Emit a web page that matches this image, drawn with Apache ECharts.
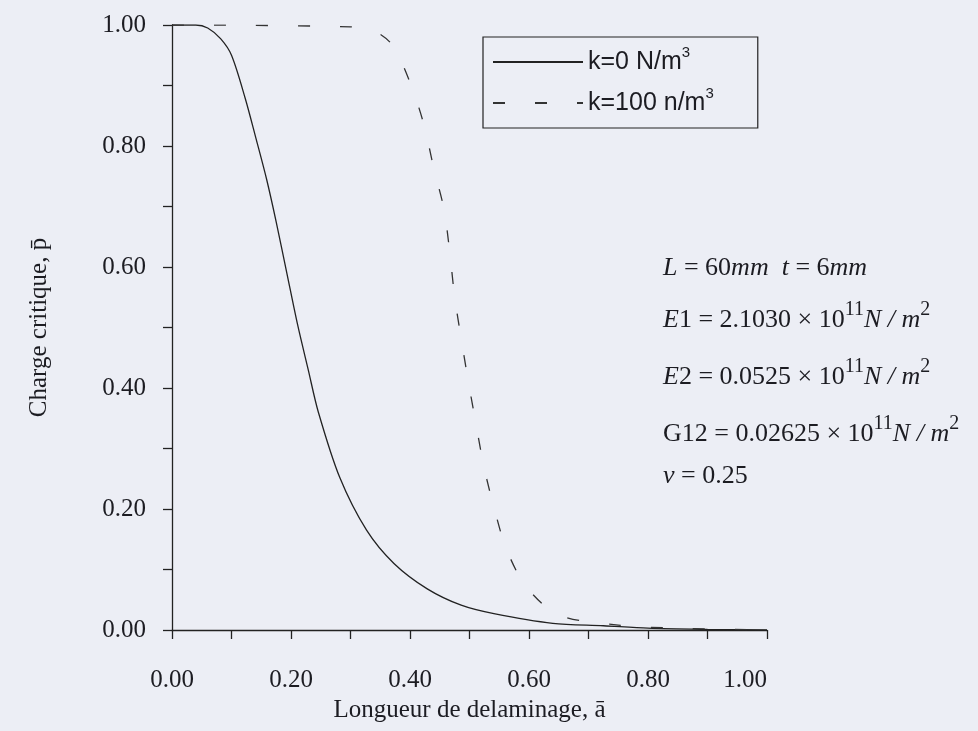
<!DOCTYPE html>
<html>
<head>
<meta charset="utf-8">
<script src="https://cdn.jsdelivr.net/npm/echarts@6/dist/echarts.min.js"></script>
<style>
  html, body { margin: 0; padding: 0; background: #eceef5; }
  #chart { width: 978px; height: 731px; }
</style>
</head>
<body>
<div id="chart"></div>
<script>
// k=0 N/m3 (solid)
const solidA = [0, 0.04, 0.06, 0.082, 0.10, 0.123, 0.141, 0.159, 0.175, 0.193, 0.211, 0.229, 0.246,
  0.282, 0.327, 0.373, 0.429, 0.486, 0.541, 0.64, 0.725, 0.80, 0.90, 1.0];
const solidP = [1.0, 1.0, 0.995, 0.977, 0.95, 0.879, 0.813, 0.745, 0.675, 0.59, 0.505, 0.43, 0.36,
  0.252, 0.165, 0.11, 0.068, 0.041, 0.027, 0.011, 0.007, 0.003, 0.001, 0.0];
// k=100 n/m3 (dashed)
const dashedA = [0, 0.30, 0.34, 0.371, 0.402, 0.424, 0.44, 0.457, 0.467, 0.475, 0.486, 0.498,
  0.511, 0.524, 0.541, 0.562, 0.595, 0.65, 0.75, 0.85, 1.0];
const dashedP = [1.0, 0.997, 0.99, 0.966, 0.90, 0.833, 0.763, 0.696, 0.623, 0.551, 0.482, 0.411,
  0.34, 0.271, 0.203, 0.134, 0.072, 0.025, 0.008, 0.003, 0.0];

const seriesNames = ["k=0 N/m3", "k=100 n/m3"];
const legendLabels = ["k=0 N/m{sup|3}", "k=100 n/m{sup|3}"];

const notes = [
  "{i|L} = 60{i|mm  t} = 6{i|mm}",
  "{i|E}1 = 2.1030 × 10{s|11}{i|N / m}{s|2}",
  "{i|E}2 = 0.0525 × 10{s|11}{i|N / m}{s|2}",
  "G12 = 0.02625 × 10{s|11}{i|N / m}{s|2}",
  "{i|ν} = 0.25"
];
const noteTops = [248, 300, 357, 414, 456];

const zip = (xs, ys) => xs.map((x, i) => [x, ys[i]]);

let myChart = echarts.init(document.getElementById("chart"));

const serif = "'Liberation Serif', 'Times New Roman', serif";
const ink = "#1c1c22";

let option = {
  backgroundColor: "#eceef5",
  animation: false,
  grid: {
    left: 172,
    right: 211,
    top: 25,
    bottom: 101,
    outerBoundsMode: "none"
  },
  legend: {
    orient: "vertical",
    left: 483,
    top: 37,
    padding: [8, 44, 8, 9],
    itemGap: 7,
    itemWidth: 90,
    itemHeight: 30,
    borderColor: "#222",
    borderWidth: 1.2,
    borderRadius: 0,
    data: seriesNames,
    itemStyle: { color: "transparent", borderWidth: 0, opacity: 0 },
    formatter: name => legendLabels[seriesNames.indexOf(name)],
    textStyle: {
      color: ink,
      fontFamily: "'Liberation Sans', Arial, sans-serif",
      fontSize: 25,
      lineHeight: 34,
      rich: {
        sup: { fontSize: 15, lineHeight: 15, verticalAlign: "top", fontFamily: "'Liberation Sans', Arial, sans-serif", color: ink }
      }
    }
  },
  xAxis: {
    type: "value",
    min: 0,
    max: 1,
    interval: 0.1,
    name: "Longueur de delaminage, a\u0304",
    nameLocation: "middle",
    nameGap: 68,
    nameTextStyle: { color: ink, fontFamily: serif, fontSize: 25 },
    axisLine: { onZero: false, lineStyle: { color: "#222", width: 1.3 } },
    axisTick: { show: true, length: 9, lineStyle: { color: "#222", width: 1.3 } },
    axisLabel: {
      margin: 38,
      color: ink,
      fontFamily: serif,
      fontSize: 25,
      alignMaxLabel: "right",
      formatter: v => (Math.round(v * 10) % 2 === 0 ? v.toFixed(2) : "")
    },
    splitLine: { show: false }
  },
  yAxis: {
    type: "value",
    min: 0,
    max: 1,
    interval: 0.1,
    name: "Charge critique, p\u0304",
    nameLocation: "middle",
    nameGap: 120,
    nameTextStyle: { color: ink, fontFamily: serif, fontSize: 25 },
    axisLine: { show: true, onZero: false, lineStyle: { color: "#222", width: 1.3 } },
    axisTick: { show: true, length: 9, lineStyle: { color: "#222", width: 1.3 } },
    axisLabel: {
      margin: 26,
      color: ink,
      fontFamily: serif,
      fontSize: 25,
      formatter: v => (Math.round(v * 10) % 2 === 0 ? v.toFixed(2) : "")
    },
    splitLine: { show: false }
  },
  series: [
    {
      name: seriesNames[0],
      type: "line",
      data: zip(solidA, solidP),
      symbol: "none",
      smooth: 0.3,
      lineStyle: { color: "#222", width: 1.3, type: "solid" },
      itemStyle: { color: "#222" }
    },
    {
      name: seriesNames[1],
      type: "line",
      data: zip(dashedA, dashedP),
      symbol: "none",
      smooth: 0.3,
      lineStyle: { color: "#333", width: 1.3, type: [12, 30] },
      itemStyle: { color: "#333" }
    }
  ],
  graphic: notes.map((t, i) => ({
    type: "text",
    left: 663,
    top: noteTops[i],
    style: {
      text: t,
      fill: ink,
      fontFamily: serif,
      fontSize: 26,
      lineHeight: 40,
      rich: {
        i: { fontStyle: "italic", fontFamily: serif, fontSize: 26, lineHeight: 40, fill: ink },
        s: { fontFamily: serif, fontSize: 20, lineHeight: 20, verticalAlign: "top", fill: ink }
      }
    }
  }))
};

myChart.setOption(option);
</script>
</body>
</html>
